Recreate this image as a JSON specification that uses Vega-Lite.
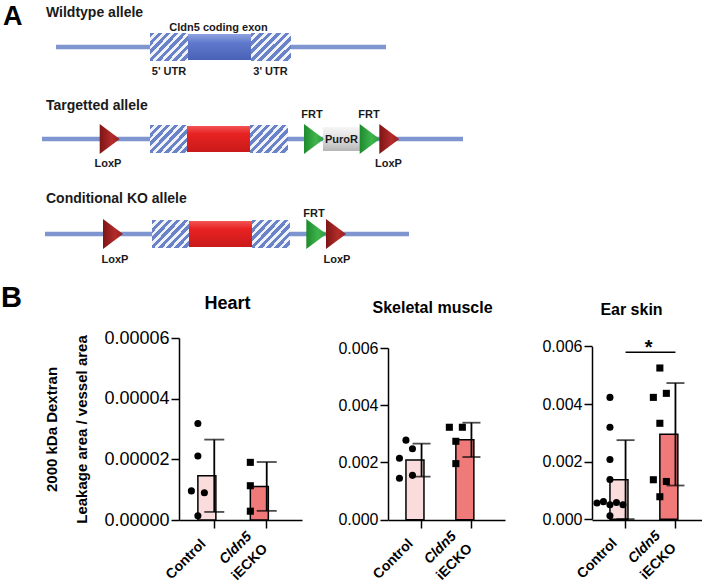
{
  "$schema": "https://vega.github.io/schema/vega-lite/v6.json",
  "padding": 0,
  "background": "white",
  "spacing": 0,
  "config": {
    "view": {"stroke": null},
    "font": "Liberation Sans",
    "axis": {"domainColor": "black", "tickColor": "black", "labelColor": "black", "titleColor": "black", "domainWidth": 1.5, "tickWidth": 1.5, "tickSize": 8, "grid": false, "labelFont": "Liberation Sans", "titleFont": "Liberation Sans"},
    "title": {"font": "Liberation Sans", "fontWeight": "bold", "color": "black"},
    "text": {"font": "Liberation Sans"}
  },
  "datasets": {
    "lines": [
      {"allele": "Wildtype", "pos": 53, "pos2": 383, "level": 47},
      {"allele": "Targetted", "pos": 39, "pos2": 460, "level": 139},
      {"allele": "Conditional KO", "pos": 42, "pos2": 406, "level": 234}
    ],
    "features": [
      {"allele": "Wildtype", "kind": "utr", "pos": 147, "pos2": 185, "level": 33, "level2": 61},
      {"allele": "Wildtype", "kind": "exon", "pos": 185, "pos2": 248, "level": 34, "level2": 60},
      {"allele": "Wildtype", "kind": "utr", "pos": 248, "pos2": 288, "level": 33, "level2": 61},
      {"allele": "Targetted", "kind": "utr", "pos": 147, "pos2": 185, "level": 125, "level2": 153},
      {"allele": "Targetted", "kind": "floxed", "pos": 184, "pos2": 247, "level": 126, "level2": 152},
      {"allele": "Targetted", "kind": "utr", "pos": 247, "pos2": 285, "level": 125, "level2": 153},
      {"allele": "Targetted", "kind": "puro", "pos": 320, "pos2": 357, "level": 127, "level2": 151},
      {"allele": "Conditional KO", "kind": "utr", "pos": 149, "pos2": 187, "level": 220, "level2": 248},
      {"allele": "Conditional KO", "kind": "floxed", "pos": 186, "pos2": 249, "level": 221, "level2": 247},
      {"allele": "Conditional KO", "kind": "utr", "pos": 249, "pos2": 287, "level": 220, "level2": 248}
    ],
    "sites": [
      {"allele": "Targetted", "site": "LoxP", "pos": 106.7, "level": 139},
      {"allele": "Targetted", "site": "FRT", "pos": 311, "level": 139},
      {"allele": "Targetted", "site": "FRT", "pos": 366.7, "level": 139},
      {"allele": "Targetted", "site": "LoxP", "pos": 386.3, "level": 139},
      {"allele": "Conditional KO", "site": "LoxP", "pos": 110, "level": 234},
      {"allele": "Conditional KO", "site": "FRT", "pos": 313.3, "level": 234},
      {"allele": "Conditional KO", "site": "LoxP", "pos": 333, "level": 234}
    ],
    "labels": [
      {"role": "panel", "text": "A", "pos": 0, "level": 25},
      {"role": "heading", "text": "Wildtype allele", "pos": 43, "level": 17},
      {"role": "heading", "text": "Targetted allele", "pos": 43, "level": 110},
      {"role": "heading", "text": "Conditional KO allele", "pos": 43, "level": 203},
      {"role": "part", "text": "Cldn5 coding exon", "pos": 215.5, "level": 30.5},
      {"role": "part", "text": "5' UTR", "pos": 166, "level": 75},
      {"role": "part", "text": "3' UTR", "pos": 267.5, "level": 75},
      {"role": "part", "text": "PuroR", "pos": 338.5, "level": 143},
      {"role": "site", "text": "FRT", "pos": 309, "level": 118},
      {"role": "site", "text": "FRT", "pos": 366, "level": 118},
      {"role": "site", "text": "LoxP", "pos": 105, "level": 167},
      {"role": "site", "text": "LoxP", "pos": 385.5, "level": 167},
      {"role": "site", "text": "FRT", "pos": 311, "level": 216.5},
      {"role": "site", "text": "LoxP", "pos": 112, "level": 263},
      {"role": "site", "text": "LoxP", "pos": 334, "level": 263}
    ],
    "groups": [
      {"group": "Control", "line1": "Control", "line2": ""},
      {"group": "Cldn5 iECKO", "line1": "Cldn5", "line2": "iECKO"}
    ],
    "heart": [
      {"group": "Control", "value": 0.0000318, "dodge": 0},
      {"group": "Control", "value": 0.0000211, "dodge": 0},
      {"group": "Control", "value": 0.0000096, "dodge": -1},
      {"group": "Control", "value": 0.0000090, "dodge": 1},
      {"group": "Control", "value": 0.0000014, "dodge": 0},
      {"group": "Cldn5 iECKO", "value": 0.0000190, "dodge": 0},
      {"group": "Cldn5 iECKO", "value": 0.0000113, "dodge": 0},
      {"group": "Cldn5 iECKO", "value": 0.0000029, "dodge": 0}
    ],
    "skeletal": [
      {"group": "Control", "value": 0.00278, "dodge": 0},
      {"group": "Control", "value": 0.00248, "dodge": 1},
      {"group": "Control", "value": 0.00215, "dodge": -1},
      {"group": "Control", "value": 0.00155, "dodge": 1},
      {"group": "Control", "value": 0.00145, "dodge": -1},
      {"group": "Cldn5 iECKO", "value": 0.00323, "dodge": -1},
      {"group": "Cldn5 iECKO", "value": 0.00323, "dodge": 1},
      {"group": "Cldn5 iECKO", "value": 0.00274, "dodge": 0},
      {"group": "Cldn5 iECKO", "value": 0.00196, "dodge": 0}
    ],
    "ear": [
      {"group": "Control", "value": 0.00423, "dodge": 0},
      {"group": "Control", "value": 0.00319, "dodge": 0},
      {"group": "Control", "value": 0.00207, "dodge": 0},
      {"group": "Control", "value": 0.00138, "dodge": 0},
      {"group": "Control", "value": 0.00056, "dodge": -2},
      {"group": "Control", "value": 0.00061, "dodge": -1},
      {"group": "Control", "value": 0.00050, "dodge": 0},
      {"group": "Control", "value": 0.00058, "dodge": 1},
      {"group": "Control", "value": 0.00050, "dodge": 2},
      {"group": "Control", "value": 0.00012, "dodge": 0},
      {"group": "Cldn5 iECKO", "value": 0.00525, "dodge": 0},
      {"group": "Cldn5 iECKO", "value": 0.00423, "dodge": -1},
      {"group": "Cldn5 iECKO", "value": 0.00437, "dodge": 1},
      {"group": "Cldn5 iECKO", "value": 0.00333, "dodge": 0},
      {"group": "Cldn5 iECKO", "value": 0.00137, "dodge": -1},
      {"group": "Cldn5 iECKO", "value": 0.00131, "dodge": 1},
      {"group": "Cldn5 iECKO", "value": 0.00078, "dodge": 0}
    ],
    "earsig": [
      {"group": "Control", "level": 0.0058, "label": "*"},
      {"group": "Cldn5 iECKO", "level": 0.0058, "label": "*"}
    ]
  },
  "vconcat": [
    {
      "width": 300,
      "height": 284,
      "encoding": {
        "x": {"field": "pos", "type": "quantitative", "scale": {"domain": [176, 476], "nice": false, "zero": false}, "axis": null},
        "y": {"field": "level", "type": "quantitative", "scale": {"domain": [0, 284], "nice": false, "zero": false, "reverse": true}, "axis": null}
      },
      "layer": [
        {"data": {"name": "lines"}, "mark": {"type": "rule", "strokeWidth": 4.5, "color": "#7f95d0"}, "encoding": {"x2": {"field": "pos2"}}},
        {"data": {"name": "features"}, "transform": [{"filter": "datum.kind == 'utr'"}],
         "mark": {"type": "rect", "stroke": null, "fill": {"gradient": "linear", "x1": 0, "y1": 0, "x2": 1.14, "y2": 0.8, "stops": [
           {"offset": 0, "color": "#6a82c7"}, {"offset": 0.069, "color": "#6a82c7"}, {"offset": 0.069, "color": "#f1f3fa"}, {"offset": 0.125, "color": "#f1f3fa"},
           {"offset": 0.125, "color": "#6a82c7"}, {"offset": 0.194, "color": "#6a82c7"}, {"offset": 0.194, "color": "#f1f3fa"}, {"offset": 0.25, "color": "#f1f3fa"},
           {"offset": 0.25, "color": "#6a82c7"}, {"offset": 0.319, "color": "#6a82c7"}, {"offset": 0.319, "color": "#f1f3fa"}, {"offset": 0.375, "color": "#f1f3fa"},
           {"offset": 0.375, "color": "#6a82c7"}, {"offset": 0.444, "color": "#6a82c7"}, {"offset": 0.444, "color": "#f1f3fa"}, {"offset": 0.5, "color": "#f1f3fa"},
           {"offset": 0.5, "color": "#6a82c7"}, {"offset": 0.569, "color": "#6a82c7"}, {"offset": 0.569, "color": "#f1f3fa"}, {"offset": 0.625, "color": "#f1f3fa"},
           {"offset": 0.625, "color": "#6a82c7"}, {"offset": 0.694, "color": "#6a82c7"}, {"offset": 0.694, "color": "#f1f3fa"}, {"offset": 0.75, "color": "#f1f3fa"},
           {"offset": 0.75, "color": "#6a82c7"}, {"offset": 0.819, "color": "#6a82c7"}, {"offset": 0.819, "color": "#f1f3fa"}, {"offset": 0.875, "color": "#f1f3fa"},
           {"offset": 0.875, "color": "#6a82c7"}, {"offset": 0.944, "color": "#6a82c7"}, {"offset": 0.944, "color": "#f1f3fa"}, {"offset": 1, "color": "#f1f3fa"}
         ]}},
         "encoding": {"x2": {"field": "pos2"}, "y2": {"field": "level2"}}},
        {"data": {"name": "features"}, "transform": [{"filter": "datum.kind == 'exon'"}],
         "mark": {"type": "rect", "stroke": null, "fill": {"gradient": "linear", "x1": 0, "y1": 0, "x2": 0, "y2": 1, "stops": [{"offset": 0, "color": "#8fa2e0"}, {"offset": 0.35, "color": "#5f78cc"}, {"offset": 1, "color": "#4a62b6"}]}},
         "encoding": {"x2": {"field": "pos2"}, "y2": {"field": "level2"}}},
        {"data": {"name": "features"}, "transform": [{"filter": "datum.kind == 'floxed'"}],
         "mark": {"type": "rect", "stroke": null, "fill": {"gradient": "linear", "x1": 0, "y1": 0, "x2": 0, "y2": 1, "stops": [{"offset": 0, "color": "#f25555"}, {"offset": 0.3, "color": "#e82222"}, {"offset": 1, "color": "#c91a1a"}]}},
         "encoding": {"x2": {"field": "pos2"}, "y2": {"field": "level2"}}},
        {"data": {"name": "features"}, "transform": [{"filter": "datum.kind == 'puro'"}],
         "mark": {"type": "rect", "stroke": null, "fill": {"gradient": "linear", "x1": 0, "y1": 0, "x2": 0, "y2": 1, "stops": [{"offset": 0, "color": "#f6f6f6"}, {"offset": 0.5, "color": "#dedede"}, {"offset": 1, "color": "#b5b5b5"}]}},
         "encoding": {"x2": {"field": "pos2"}, "y2": {"field": "level2"}}},
        {"data": {"name": "sites"}, "transform": [{"filter": "datum.site == 'FRT'"}],
         "mark": {"type": "point", "filled": true, "opacity": 1, "size": 900, "shape": "M-0.667,-1L0.667,0L-0.667,1Z",
                  "fill": {"gradient": "linear", "x1": 0, "y1": 0, "x2": 1, "y2": 0, "stops": [{"offset": 0, "color": "#1e8a2e"}, {"offset": 0.6, "color": "#3fb54d"}, {"offset": 1, "color": "#2a9a38"}]}},
         "encoding": {}},
        {"data": {"name": "sites"}, "transform": [{"filter": "datum.site == 'LoxP'"}],
         "mark": {"type": "point", "filled": true, "opacity": 1, "size": 900, "shape": "M-0.667,-1L0.667,0L-0.667,1Z",
                  "fill": {"gradient": "linear", "x1": 0, "y1": 0, "x2": 1, "y2": 0, "stops": [{"offset": 0, "color": "#7e1515"}, {"offset": 0.6, "color": "#b22c2a"}, {"offset": 1, "color": "#9a1f1f"}]}},
         "encoding": {}},
        {"data": {"name": "labels"}, "transform": [{"filter": "datum.role == 'panel'"}],
         "mark": {"type": "text", "align": "left", "baseline": "alphabetic", "fontSize": 27, "fontWeight": "bold", "color": "black"},
         "encoding": {"text": {"field": "text"}}},
        {"data": {"name": "labels"}, "transform": [{"filter": "datum.role == 'heading'"}],
         "mark": {"type": "text", "align": "left", "baseline": "alphabetic", "fontSize": 14, "fontWeight": "bold", "color": "#1a1a1a"},
         "encoding": {"text": {"field": "text"}}},
        {"data": {"name": "labels"}, "transform": [{"filter": "datum.role == 'part' || datum.role == 'site'"}],
         "mark": {"type": "text", "align": "center", "baseline": "alphabetic", "fontSize": 11, "fontWeight": "bold", "color": "#1a1a1a"},
         "encoding": {"text": {"field": "text"}}}
      ]
    },
    {
      "title": {"text": "B", "anchor": "start", "fontSize": 29, "fontWeight": "bold", "color": "black", "offset": 0, "dy": 18, "dx": -44},
      "spacing": 35,
      "hconcat": [
        {
          "width": 123,
          "height": 182,
          "title": {"text": "Heart", "fontSize": 18, "dx": -13, "offset": 16, "anchor": "middle"},
          "encoding": {
            "x": {"field": "group", "type": "nominal", "scale": {"type": "band", "domain": ["Control", "Cldn5 iECKO"], "paddingInner": 0.375, "paddingOuter": 0.36},
                  "axis": {"labels": false, "title": null, "tickSize": 8}}
          },
          "layer": [
            {"data": {"name": "heart"}, "transform": [{"aggregate": [{"op": "mean", "field": "value", "as": "value"}], "groupby": ["group"]}],
             "mark": {"type": "bar", "stroke": "black", "strokeWidth": 1.5},
             "encoding": {
               "y": {"field": "value", "type": "quantitative", "scale": {"domain": [0, 0.00006], "nice": false, "zero": true},
                     "axis": {"values": [0, 0.00002, 0.00004, 0.00006], "format": ".5f", "labelFontSize": 18, "labelPadding": 2,
                              "title": ["2000 kDa Dextran", "Leakage area / vessel area"], "titleFontSize": 15, "titleFontWeight": "bold", "titleLineHeight": 30, "titlePadding": 14}},
               "fill": {"field": "group", "type": "nominal", "scale": {"domain": ["Control", "Cldn5 iECKO"], "range": ["#fbdcdc", "#f07a7a"]}, "legend": null}}},
            {"data": {"name": "heart"}, "mark": {"type": "errorbar", "extent": "stdev", "ticks": true, "size": 20, "thickness": 1.8, "color": "black"},
             "encoding": {
               "y": {"field": "value", "type": "quantitative", "scale": {"domain": [0, 0.00006], "nice": false, "zero": true},
                     "axis": {"values": [0, 0.00002, 0.00004, 0.00006], "format": ".5f", "labelFontSize": 18, "labelPadding": 2,
                              "title": ["2000 kDa Dextran", "Leakage area / vessel area"], "titleFontSize": 15, "titleFontWeight": "bold", "titleLineHeight": 30, "titlePadding": 14}}}},
            {"data": {"name": "heart"}, "mark": {"type": "point", "filled": true, "color": "black", "opacity": 1, "size": 50},
             "encoding": {
               "y": {"field": "value", "type": "quantitative", "scale": {"domain": [0, 0.00006], "nice": false, "zero": true},
                     "axis": {"values": [0, 0.00002, 0.00004, 0.00006], "format": ".5f", "labelFontSize": 18, "labelPadding": 2,
                              "title": ["2000 kDa Dextran", "Leakage area / vessel area"], "titleFontSize": 15, "titleFontWeight": "bold", "titleLineHeight": 30, "titlePadding": 14}},
               "shape": {"field": "group", "type": "nominal", "scale": {"domain": ["Control", "Cldn5 iECKO"], "range": ["circle", "square"]}, "legend": null},
               "xOffset": {"field": "dodge", "type": "quantitative", "scale": {"domain": [-2, 2], "range": [-13, 13]}}
             }},
            {"data": {"name": "groups"}, "transform": [{"filter": "datum.line1 == 'Control'"}],
             "mark": {"type": "text", "angle": -45, "align": "center", "baseline": "middle", "dx": -48, "dy": 8, "fontSize": 14, "fontWeight": "bold", "color": "black"},
             "encoding": {"y": {"datum": 0}, "text": {"field": "line1"}}},
            {"data": {"name": "groups"}, "transform": [{"filter": "datum.line1 == 'Cldn5'"}],
             "mark": {"type": "text", "angle": -45, "align": "center", "baseline": "middle", "dx": -42, "dy": -2, "fontSize": 14, "fontWeight": "bold", "fontStyle": "italic", "color": "black"},
             "encoding": {"y": {"datum": 0}, "text": {"field": "line1"}}},
            {"data": {"name": "groups"}, "transform": [{"filter": "datum.line2 != ''"}],
             "mark": {"type": "text", "angle": -45, "align": "center", "baseline": "middle", "dx": -42, "dy": 18, "fontSize": 14, "fontWeight": "bold", "color": "black"},
             "encoding": {"y": {"datum": 0}, "text": {"field": "line2"}}}
          ]
        },
        {
          "spacing": 36,
          "hconcat": [
            {
              "width": 117,
              "height": 182,
              "title": {"text": "Skeletal muscle", "fontSize": 16, "dx": -14, "offset": 22, "anchor": "middle"},
              "encoding": {
                "x": {"field": "group", "type": "nominal", "scale": {"type": "band", "domain": ["Control", "Cldn5 iECKO"], "paddingInner": 0.375, "paddingOuter": 0.36},
                      "axis": {"labels": false, "title": null, "tickSize": 8}}
              },
              "layer": [
                {"data": {"name": "skeletal"}, "transform": [{"aggregate": [{"op": "mean", "field": "value", "as": "value"}], "groupby": ["group"]}],
                 "mark": {"type": "bar", "stroke": "black", "strokeWidth": 1.5},
                 "encoding": {
                   "y": {"field": "value", "type": "quantitative", "scale": {"domain": [0, 0.006], "nice": false, "zero": true, "range": [181.7, 10]},
                         "axis": {"values": [0, 0.002, 0.004, 0.006], "format": ".3f", "labelFontSize": 16, "labelPadding": 2, "title": null}},
                   "fill": {"field": "group", "type": "nominal", "scale": {"domain": ["Control", "Cldn5 iECKO"], "range": ["#fbdcdc", "#f07a7a"]}, "legend": null}}},
                {"data": {"name": "skeletal"}, "mark": {"type": "errorbar", "extent": "stdev", "ticks": true, "size": 18, "thickness": 1.8, "color": "black"},
                 "encoding": {
                   "y": {"field": "value", "type": "quantitative", "scale": {"domain": [0, 0.006], "nice": false, "zero": true, "range": [181.7, 10]},
                         "axis": {"values": [0, 0.002, 0.004, 0.006], "format": ".3f", "labelFontSize": 16, "labelPadding": 2, "title": null}}}},
                {"data": {"name": "skeletal"}, "mark": {"type": "point", "filled": true, "color": "black", "opacity": 1, "size": 50},
                 "encoding": {
                   "y": {"field": "value", "type": "quantitative", "scale": {"domain": [0, 0.006], "nice": false, "zero": true, "range": [181.7, 10]},
                         "axis": {"values": [0, 0.002, 0.004, 0.006], "format": ".3f", "labelFontSize": 16, "labelPadding": 2, "title": null}},
                   "shape": {"field": "group", "type": "nominal", "scale": {"domain": ["Control", "Cldn5 iECKO"], "range": ["circle", "square"]}, "legend": null},
                   "xOffset": {"field": "dodge", "type": "quantitative", "scale": {"domain": [-2, 2], "range": [-13, 13]}}
                 }},
                {"data": {"name": "groups"}, "transform": [{"filter": "datum.line1 == 'Control'"}],
                 "mark": {"type": "text", "angle": -45, "align": "center", "baseline": "middle", "dx": -48, "dy": 8, "fontSize": 14, "fontWeight": "bold", "color": "black"},
                 "encoding": {"y": {"datum": 0}, "text": {"field": "line1"}}},
                {"data": {"name": "groups"}, "transform": [{"filter": "datum.line1 == 'Cldn5'"}],
                 "mark": {"type": "text", "angle": -45, "align": "center", "baseline": "middle", "dx": -42, "dy": -2, "fontSize": 14, "fontWeight": "bold", "fontStyle": "italic", "color": "black"},
                 "encoding": {"y": {"datum": 0}, "text": {"field": "line1"}}},
                {"data": {"name": "groups"}, "transform": [{"filter": "datum.line2 != ''"}],
                 "mark": {"type": "text", "angle": -45, "align": "center", "baseline": "middle", "dx": -42, "dy": 18, "fontSize": 14, "fontWeight": "bold", "color": "black"},
                 "encoding": {"y": {"datum": 0}, "text": {"field": "line2"}}}
              ]
            },
            {
              "width": 117,
              "height": 182,
              "title": {"text": "Ear skin", "fontSize": 16, "dx": -19, "offset": 20, "anchor": "middle"},
              "encoding": {
                "x": {"field": "group", "type": "nominal", "scale": {"type": "band", "domain": ["Control", "Cldn5 iECKO"], "paddingInner": 0.375, "paddingOuter": 0.36},
                      "axis": {"labels": false, "title": null, "tickSize": 8}}
              },
              "layer": [
                {"data": {"name": "ear"}, "transform": [{"aggregate": [{"op": "mean", "field": "value", "as": "value"}], "groupby": ["group"]}],
                 "mark": {"type": "bar", "stroke": "black", "strokeWidth": 1.5},
                 "encoding": {
                   "y": {"field": "value", "type": "quantitative", "scale": {"domain": [0, 0.006], "nice": false, "zero": true, "range": [181.2, 8.4]},
                         "axis": {"values": [0, 0.002, 0.004, 0.006], "format": ".3f", "labelFontSize": 16, "labelPadding": 2, "title": null}},
                   "fill": {"field": "group", "type": "nominal", "scale": {"domain": ["Control", "Cldn5 iECKO"], "range": ["#fbdcdc", "#f07a7a"]}, "legend": null}}},
                {"data": {"name": "ear"}, "mark": {"type": "errorbar", "extent": "stdev", "ticks": true, "size": 18, "thickness": 1.8, "color": "black"},
                 "encoding": {
                   "y": {"field": "value", "type": "quantitative", "scale": {"domain": [0, 0.006], "nice": false, "zero": true, "range": [181.2, 8.4]},
                         "axis": {"values": [0, 0.002, 0.004, 0.006], "format": ".3f", "labelFontSize": 16, "labelPadding": 2, "title": null}}}},
                {"data": {"name": "ear"}, "mark": {"type": "point", "filled": true, "color": "black", "opacity": 1, "size": 50},
                 "encoding": {
                   "y": {"field": "value", "type": "quantitative", "scale": {"domain": [0, 0.006], "nice": false, "zero": true, "range": [181.2, 8.4]},
                         "axis": {"values": [0, 0.002, 0.004, 0.006], "format": ".3f", "labelFontSize": 16, "labelPadding": 2, "title": null}},
                   "shape": {"field": "group", "type": "nominal", "scale": {"domain": ["Control", "Cldn5 iECKO"], "range": ["circle", "square"]}, "legend": null},
                   "xOffset": {"field": "dodge", "type": "quantitative", "scale": {"domain": [-2, 2], "range": [-13, 13]}}
                 }},
                {"data": {"name": "earsig"}, "mark": {"type": "line", "color": "black", "strokeWidth": 1.5},
                 "encoding": {"y": {"field": "level", "type": "quantitative"}}},
                {"data": {"name": "earsig"}, "transform": [{"filter": "datum.group == 'Control'"}],
                 "mark": {"type": "text", "align": "center", "baseline": "alphabetic", "dx": 23, "dy": 2, "fontSize": 20, "fontWeight": "bold", "color": "black"},
                 "encoding": {"y": {"field": "level", "type": "quantitative"}, "text": {"field": "label"}}},
                {"data": {"name": "groups"}, "transform": [{"filter": "datum.line1 == 'Control'"}],
                 "mark": {"type": "text", "angle": -45, "align": "center", "baseline": "middle", "dx": -48, "dy": 8, "fontSize": 14, "fontWeight": "bold", "color": "black"},
                 "encoding": {"y": {"datum": 0}, "text": {"field": "line1"}}},
                {"data": {"name": "groups"}, "transform": [{"filter": "datum.line1 == 'Cldn5'"}],
                 "mark": {"type": "text", "angle": -45, "align": "center", "baseline": "middle", "dx": -42, "dy": -2, "fontSize": 14, "fontWeight": "bold", "fontStyle": "italic", "color": "black"},
                 "encoding": {"y": {"datum": 0}, "text": {"field": "line1"}}},
                {"data": {"name": "groups"}, "transform": [{"filter": "datum.line2 != ''"}],
                 "mark": {"type": "text", "angle": -45, "align": "center", "baseline": "middle", "dx": -42, "dy": 18, "fontSize": 14, "fontWeight": "bold", "color": "black"},
                 "encoding": {"y": {"datum": 0}, "text": {"field": "line2"}}}
              ]
            }
          ]
        }
      ]
    }
  ]
}
